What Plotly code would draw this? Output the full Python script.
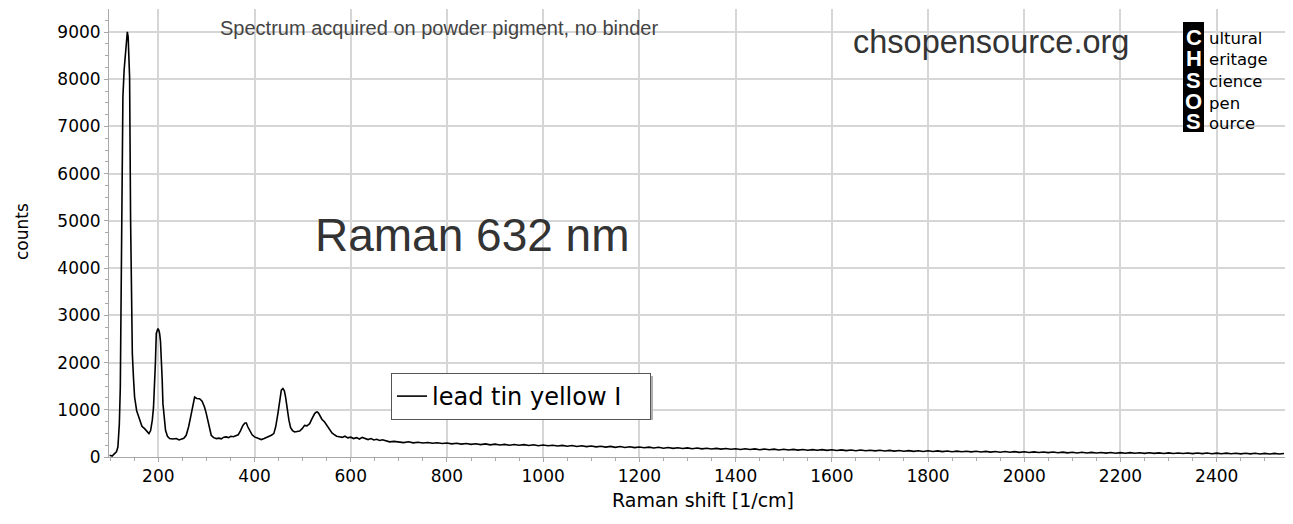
import plotly.graph_objects as go

# ---- data ----
peak_shift = [98.8, 104, 109, 113, 116, 119, 121, 123, 124.8, 126.4, 129, 131.4, 133.5, 135.6, 137.3, 139,
              140.3, 142.4, 144, 146, 148.5, 150.7, 155, 161, 166, 171.5, 176, 180.5, 184, 187.5, 190,
              192.3, 194, 195.8, 197.5, 199.2, 201, 202.7, 204.5, 206, 208, 209.6, 212, 215, 219, 223.5,
              230, 237.4, 243, 247.8, 253, 258, 263, 268.6, 272, 275.5, 280, 285.8, 291, 296, 299.5, 303,
              306.5, 310, 315, 320.6, 326, 331, 336, 341, 346, 351, 356, 362, 366, 371, 375.8, 380, 383,
              386, 389.8, 395, 400, 405, 409, 414, 420, 425, 430, 435, 440, 444, 448.6, 452, 455.7, 459,
              462, 464.6, 468, 471.5, 475, 479, 483.4, 488, 493.8, 499, 504, 509, 514.6, 519, 522, 525,
              528, 530, 533, 535.3, 540, 545.7, 551, 556, 561, 565, 570.7, 576, 582, 588, 594, 600, 606,
              612, 618, 624, 630, 636, 642, 648, 654, 660, 666, 672, 680.8, 690]
peak_counts = [36, 20, 72, 110, 212, 700, 1480, 3600, 5600, 7630, 8200, 8550, 8850, 9005, 8900, 8550,
               8050, 5015, 3300, 2190, 1650, 1270, 980, 780, 650, 600, 540, 495, 560, 780, 1050,
               1480, 2000, 2615, 2700, 2720, 2690, 2615, 2450, 2190, 1650, 1130, 800, 565, 440, 390,
               380, 390, 360, 370, 395, 460, 640, 920, 1120, 1270, 1240, 1235, 1180, 1060, 930, 780,
               600, 460, 410, 390, 400, 385, 420, 425, 410, 440, 430, 460, 470, 560, 670, 720, 720,
               640, 565, 470, 425, 400, 385, 370, 390, 410, 430, 460, 495, 640, 920, 1220, 1415, 1450,
               1400, 1270, 1000, 780, 620, 560, 530, 545, 550, 600, 670, 660, 705, 800, 880, 920,
               950, 955, 930, 885, 800, 740, 650, 565, 510, 480, 440, 430, 415, 440, 405, 420, 390,
               410, 380, 415, 395, 370, 390, 360, 375, 350, 365, 340, 320, 330]

tail_shift = list(range(700, 2541, 10))
tail_counts = [318, 305, 322, 300, 312, 296, 308, 290, 301, 285, 296, 278, 290, 272, 285, 268, 280, 262,
               277, 258, 272, 255, 268, 250, 264, 248, 261, 244, 258, 240, 254,
               238, 250, 232, 246, 228, 243, 224, 238, 220, 234, 215, 229, 210, 225, 205, 221, 202, 216,
               198, 212, 195, 208, 190, 205, 187, 200, 183, 197, 180, 193,
               176, 190, 172, 186, 170, 182, 166, 180, 163, 176, 160, 174, 158, 171, 155, 169, 153, 166,
               150, 164, 148, 162, 146, 160, 144, 157, 142, 155, 140, 153,
               138, 151, 136, 149, 134, 147, 131, 144, 129, 142, 127, 140, 125, 137, 122, 135, 120, 133,
               118, 131, 116, 129, 114, 127, 112, 125, 110, 123, 108, 121,
               106, 119, 104, 117, 102, 115, 100, 113, 98, 111, 96, 109, 94, 107, 92, 105, 90, 103, 88,
               101, 86, 99, 85, 97, 84, 96, 82, 95, 81, 93,
               80, 92, 79, 91, 77, 90, 76, 88, 75, 87, 74, 86, 73, 85, 72, 84, 71, 83, 70, 82, 69, 81,
               68, 80, 67, 79, 66, 78, 65, 77, 64, 76, 63, 74]

series_name = "lead tin yellow I"
x_tick_vals = [200, 400, 600, 800, 1000, 1200, 1400, 1600, 1800, 2000, 2200, 2400]
y_tick_vals = [0, 1000, 2000, 3000, 4000, 5000, 6000, 7000, 8000, 9000]

shift = peak_shift + tail_shift
counts = peak_counts + tail_counts

# page body has an 8px margin, so the figure starts at (8, 8) in the window
OFF = 8
W, H = 1293 - OFF, 524 - OFF
PLOT_X0, PLOT_X1, PLOT_Y0, PLOT_Y1 = 109, 1285, 9, 457     # window pixels of plot area
L, R = PLOT_X0 - OFF, W - (PLOT_X1 - OFF)
T, B = PLOT_Y0 - OFF, H - (PLOT_Y1 - OFF)
PW, PH = PLOT_X1 - PLOT_X0, PLOT_Y1 - PLOT_Y0


def px(x):
    return (x - PLOT_X0) / PW


def py(y):
    return (PLOT_Y1 - y) / PH


fig = go.Figure()
fig.add_trace(go.Scatter(x=shift, y=counts, mode="lines", name=series_name + "\u00a0\u00a0\u00a0",
                         line=dict(color="#000000", width=1.6), showlegend=True))

grid = "#d6d6d6"
axcol = "#a8a8a8"
tickfont = dict(family="DejaVu Sans, Verdana, sans-serif", size=17, color="#000000")

fig.update_xaxes(range=[97.5, 2542], tickvals=x_tick_vals, showgrid=True, gridcolor=grid, gridwidth=1.5,
                 showline=True, linecolor=axcol, linewidth=1, ticks="outside", ticklen=4,
                 tickcolor=axcol, tickfont=tickfont, zeroline=False,
                 minor=dict(dtick=50, tick0=0, ticks="outside", ticklen=3, tickcolor=axcol, showgrid=False))
fig.update_yaxes(range=[0, 9487], tickvals=y_tick_vals, showgrid=True, gridcolor=grid, gridwidth=1.5,
                 showline=True, linecolor=axcol, linewidth=1, ticks="outside", ticklen=4,
                 tickcolor=axcol, tickfont=tickfont, zeroline=False,
                 minor=dict(dtick=250, tick0=0, ticks="outside", ticklen=3, tickcolor=axcol, showgrid=False))

annotations = [
    dict(text="counts", x=px(22), y=py(232), textangle=-90,
         font=dict(family="DejaVu Sans, Verdana, sans-serif", size=17, color="#000")),
    dict(text="Raman shift [1/cm]", x=px(703), y=py(500),
         font=dict(family="DejaVu Sans, Verdana, sans-serif", size=19, color="#000")),
    dict(text="Spectrum acquired on powder pigment, no binder", x=px(439), y=py(28),
         font=dict(family="Liberation Sans, Arial, sans-serif", size=20, color="#444444")),
    dict(text="chsopensource.org", x=px(991), y=py(42),
         font=dict(family="Liberation Sans, Arial, sans-serif", size=32.5, color="#333333")),
    dict(text="Raman 632 nm", x=px(472), y=py(235),
         font=dict(family="Liberation Sans, Arial, sans-serif", size=46, color="#333333")),
]
letters = ["C", "H", "S", "O", "S"]
words = ["ultural", "eritage", "cience", "pen", "ource"]
letter_y = [37, 58.5, 80, 101.5, 121.5]
for ch, wd, ly in zip(letters, words, letter_y):
    annotations.append(dict(text="<b>%s</b>" % ch, x=px(1193.5), y=py(ly),
                            font=dict(family="Liberation Sans, Arial, sans-serif", size=22, color="#ffffff")))
    annotations.append(dict(text=wd, x=px(1207), y=py(ly + 1.5), xanchor="left",
                            font=dict(family="DejaVu Sans, sans-serif", size=16.5, color="#000000")))
for a in annotations:
    a.setdefault("xanchor", "center")
    a.update(xref="paper", yref="paper", yanchor="middle", showarrow=False)

shapes = [
    dict(type="rect", xref="paper", yref="paper", x0=px(1183), x1=px(1204), y0=py(132), y1=py(22),
         fillcolor="#000000", line=dict(width=0), layer="above"),
    # soft drop shadow under the legend box
    dict(type="rect", xref="paper", yref="paper", x0=px(394), x1=px(653), y0=py(420), y1=py(376),
         fillcolor="#b0b0b0", line=dict(width=0), layer="above"),
]

fig.update_layout(
    width=W, height=H, margin=dict(l=L, r=R, t=T, b=B, autoexpand=False),
    paper_bgcolor="#ffffff", plot_bgcolor="#ffffff",
    annotations=annotations, shapes=shapes,
    legend=dict(x=px(391), y=py(373), xanchor="left", yanchor="top",
                bgcolor="#ffffff", bordercolor="#555555", borderwidth=1,
                font=dict(family="DejaVu Sans, Verdana, sans-serif", size=24, color="#000")),
    showlegend=True,
)

fig.write_html("out.html")
